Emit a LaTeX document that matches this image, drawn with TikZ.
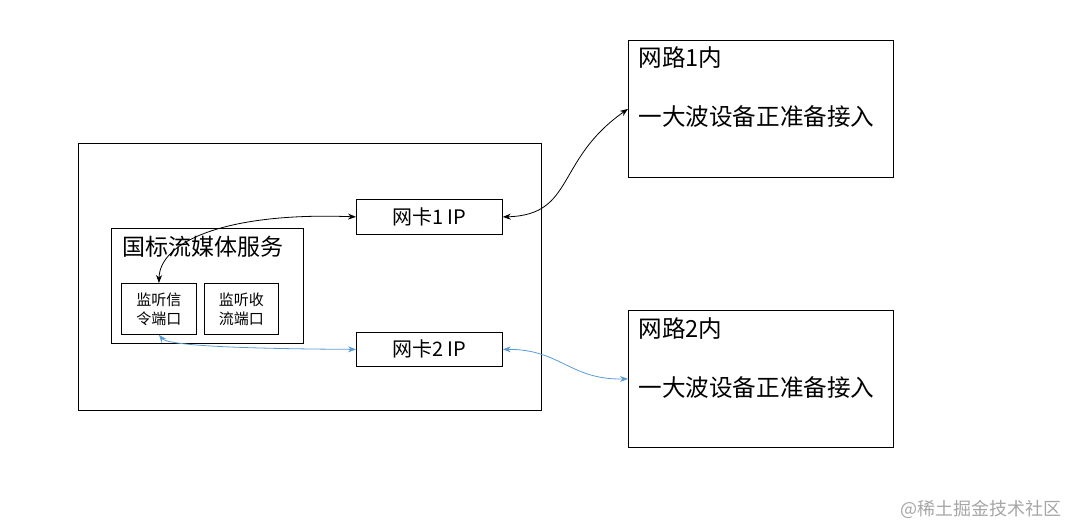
\documentclass[tikz,border=0pt]{standalone}
\usepackage{fontspec}
\setmainfont{Noto Sans CJK SC}
\usetikzlibrary{arrows.meta}
\definecolor{linkblue}{RGB}{91,155,213}
\begin{document}
\begin{tikzpicture}[x=0.5pt, y=-0.5pt,
    box/.style ={draw, inner sep=0pt, anchor=north west},
    txt/.style ={anchor=west, inner sep=0pt},
    link/.style ={{Stealth[length=4pt]}-{Stealth[length=4pt]}, thin},
    bluelink/.style ={link, color=linkblue}]

    \useasboundingbox (0,0) rectangle (1067,524);

    %host and service
    \node[box, minimum width=231.5pt, minimum height=133.5pt] (host) at (78,143) {};
    \node[box, minimum width=96pt, minimum height=57.5pt] (svc) at (111,228) {};
    \node[txt, font=\fontsize{11.5}{13}\selectfont] (svct) at (122,247) {国标流媒体服务};
    \node[box, minimum width=37.5pt, minimum height=25.5pt] (sig) at (121,283) {};
    \node[align=center, font=\fontsize{7.5}{9.5}\selectfont] at (sig.center) {监听信\\令端口};
    \node[box, minimum width=37pt, minimum height=25.5pt] (rcv) at (204,283) {};
    \node[align=center, font=\fontsize{7.5}{9.5}\selectfont] at (rcv.center) {监听收\\流端口};

    %network cards
    \node[box, minimum width=73pt, minimum height=17.5pt] (nic1) at (356,199) {};
    \node[font=\fontsize{10}{12}\selectfont] at (nic1.center) {网卡1 IP};
    \node[box, minimum width=73pt, minimum height=17pt] (nic2) at (356,332) {};
    \node[font=\fontsize{10}{12}\selectfont] at (nic2.center) {网卡2 IP};

    %networks
    \node[box, minimum width=132.5pt, minimum height=68.5pt] (net1) at (628,40) {};
    \node[txt, font=\fontsize{11.8}{13}\selectfont] at (638,58) {网路1内};
    \node[txt, font=\fontsize{11.8}{13}\selectfont] at (638,117) {一大波设备正准备接入};
    \node[box, minimum width=132.5pt, minimum height=68.5pt] (net2) at (628,310) {};
    \node[txt, font=\fontsize{11.8}{13}\selectfont] at (638,329) {网路2内};
    \node[txt, font=\fontsize{11.8}{13}\selectfont] at (638,388) {一大波设备正准备接入};

    %links
    \draw[link] (nic1.east) .. controls (575,215) and (555,160) .. (net1.west);
    \draw[link] (nic1.west) .. controls (230,212) and (160,240) .. (sig.north);
    \draw[bluelink] (sig.south) .. controls (170,348) and (300,349) .. (nic2.west);
    \draw[bluelink] (nic2.east) .. controls (560,349) and (570,380) .. (net2.west);

    %watermark
    \node[txt, color=gray!70, font=\fontsize{9}{11}\selectfont] (wm) at (900,509) {@稀土掘金技术社区};

\end{tikzpicture}
\end{document}
